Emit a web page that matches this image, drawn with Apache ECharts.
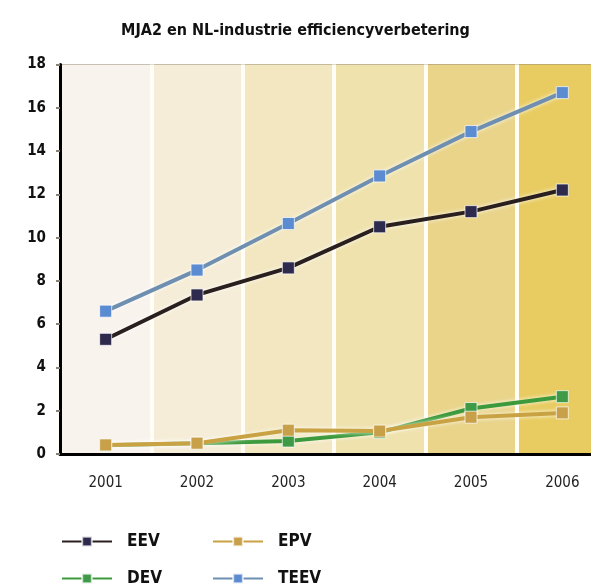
<!DOCTYPE html>
<html>
<head>
<meta charset="utf-8">
<script src="https://cdn.jsdelivr.net/npm/echarts@6/dist/echarts.min.js"></script>
<style>
  html, body { margin: 0; padding: 0; background: #fff; }
  #main { width: 591px; height: 585px; }
</style>
</head>
<body>
<div id="main"></div>
<script>
var years = ['2001', '2002', '2003', '2004', '2005', '2006'];
var eev  = [5.3, 7.35, 8.6, 10.5, 11.2, 12.2];
var teev = [6.6, 8.5, 10.65, 12.85, 14.9, 16.7];
var dev  = [0.4, 0.5, 0.6, 1.0, 2.1, 2.65];
var epv  = [0.42, 0.5, 1.1, 1.06, 1.7, 1.9];
var bandColors = ['#f9f3ee', '#f5edd7', '#f2e7c0', '#efe2ad', '#e9d48a', '#e8cc62'];

var narrow = '"DejaVu Sans Condensed", "Liberation Sans", sans-serif';

var myChart = echarts.init(document.getElementById('main'));

function line(name, data, lineColor, markColor) {
  return {
    name: name,
    type: 'line',
    data: data,
    symbol: 'rect',
    symbolSize: 12,
    itemStyle: { color: markColor, borderColor: 'rgba(255,255,255,0.7)', borderWidth: 1 },
    lineStyle: { color: lineColor, width: 4, shadowColor: 'rgba(255,255,255,0.9)', shadowBlur: 4 },
    z: 3
  };
}

function legendAt(name, left, top) {
  return {
    data: [name],
    left: left,
    top: top,
    itemWidth: 50,
    itemHeight: 12,
    textStyle: {
      fontFamily: narrow,
      fontWeight: 'bold',
      fontSize: 17,
      color: '#111',
      padding: [0, 0, 0, 10]
    }
  };
}

var option = {
  backgroundColor: '#fff',
  animation: false,
  title: {
    text: 'MJA2 en NL-industrie efficiencyverbetering',
    left: 'center',
    top: 18,
    textStyle: {
      fontFamily: narrow,
      fontWeight: 'bold',
      fontSize: 16,
      color: '#111'
    }
  },
  legend: [
    legendAt('EEV', 56, 528),
    legendAt('EPV', 207, 528),
    legendAt('DEV', 56, 565),
    legendAt('TEEV', 207, 565)
  ],
  grid: {
    left: 60,
    top: 64.5,
    bottom: 131,
    right: -17,
    outerBoundsMode: 'none'
  },
  xAxis: {
    type: 'category',
    data: years,
    axisLine: { lineStyle: { color: '#000', width: 3 } },
    axisTick: { show: false },
    axisLabel: { color: '#222', fontSize: 15, fontFamily: narrow, margin: 22 },
    splitArea: { show: true, areaStyle: { color: bandColors } },
    splitLine: { show: true, lineStyle: { color: '#fffdf5', width: 4 } }
  },
  yAxis: {
    type: 'value',
    min: 0,
    max: 18,
    interval: 2,
    axisLine: { show: true, lineStyle: { color: '#000', width: 3 } },
    axisTick: { show: true, length: 4, lineStyle: { color: '#8c8272', width: 2 } },
    axisLabel: { color: '#111', fontSize: 15, fontFamily: narrow, fontWeight: 'bold', margin: 14 },
    splitLine: { lineStyle: { color: '#968c78', width: 2 } }
  },
  series: [
    line('DEV', dev, '#3c9a3c', '#3f9a48'),
    line('EPV', epv, '#c9a243', '#c9a04a'),
    line('EEV', eev, '#2a1f1f', '#2d2a4d'),
    line('TEEV', teev, '#6f8fb0', '#5b8bd0')
  ]
};

myChart.setOption(option);
</script>
</body>
</html>
